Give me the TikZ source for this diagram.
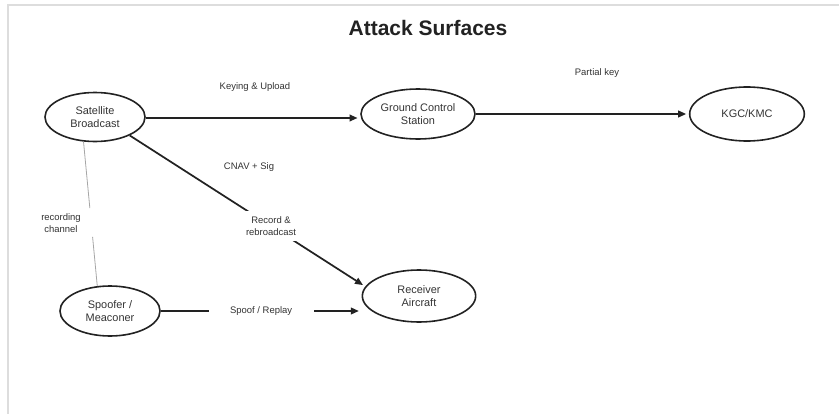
\documentclass[tikz,border=0pt]{standalone}
\usepackage{fontspec}
\setmainfont{Liberation Sans}
\usetikzlibrary{shapes.geometric,arrows.meta}
\definecolor{ink}{HTML}{222222}
\definecolor{txt}{HTML}{333333}
\definecolor{frame}{HTML}{DDDDDD}
\begin{document}
\begin{tikzpicture}[x=0.75pt,y=-0.75pt,
  ent/.style={ellipse, draw=ink, line width=1.2pt, inner sep=0pt, align=center,
              text=txt, font=\fontsize{8.2}{9.6}\selectfont},
  lbl/.style={text=txt, align=center, font=\fontsize{7.1}{8.8}\selectfont},
  arr/.style={draw=ink, line width=1.3pt, shorten >=2pt,
              -{Triangle[length=6pt,width=5pt]}},
  thin/.style={draw=gray!70, line width=0.6pt}]
\useasboundingbox (0,0) rectangle (839,414);
% page frame
\draw[frame, line width=0.8pt] (8,414) -- (8,5) -- (839,5);

% title
\node[font=\fontsize{15.75}{18}\selectfont\bfseries, text=ink] (title) at (428,28) {Attack Surfaces};

% entities
\node[ent, minimum width=75pt, minimum height=36.75pt] (sat) at (95,117) {Satellite\\Broadcast};
\node[ent, minimum width=85.5pt, minimum height=37.5pt] (gcs) at (418,114) {Ground Control\\Station};
\node[ent, minimum width=86pt, minimum height=40.5pt] (kgc) at (747,114) {KGC/KMC};
\node[ent, minimum width=85pt, minimum height=39pt] (rec) at (419,296) {Receiver\\Aircraft};
\node[ent, minimum width=75pt, minimum height=37.5pt] (spf) at (110,311) {Spoofer /\\Meaconer};

% upload path
\draw[arr] ([yshift=-0.75pt]sat.east) -- ([yshift=-0.75pt]sat.east -| gcs.west);
\node[lbl] (kul) at (255,87) {Keying \& Upload};
\draw[arr] (gcs.east) -- (kgc.west);
\node[lbl] (pk) at (597,73) {Partial key};

% broadcast to receiver
\draw[arr] (sat.-28) -- node[lbl, fill=white, pos=0.6, inner xsep=3pt, inner ysep=4.5pt] (rr) {Record \&\\rebroadcast} (rec.170);
\node[lbl] (cnav) at (249,167) {CNAV + Sig};

% spoofing path
\draw[arr] (spf.east) -- node[lbl, fill=white, pos=0.5, inner xsep=16pt] (sr) {Spoof / Replay} (spf.east -| rec.west);

% recording channel
\path (sat.-115) -- coordinate[pos=0.46] (rc1) coordinate[pos=0.66] (rc2) (spf.117);
\draw[thin] (sat.-115) -- (rc1);
\draw[thin] (rc2) -- (spf.117);
\node[lbl] (rch) at (61,223) {recording\\channel};
\end{tikzpicture}
\end{document}
